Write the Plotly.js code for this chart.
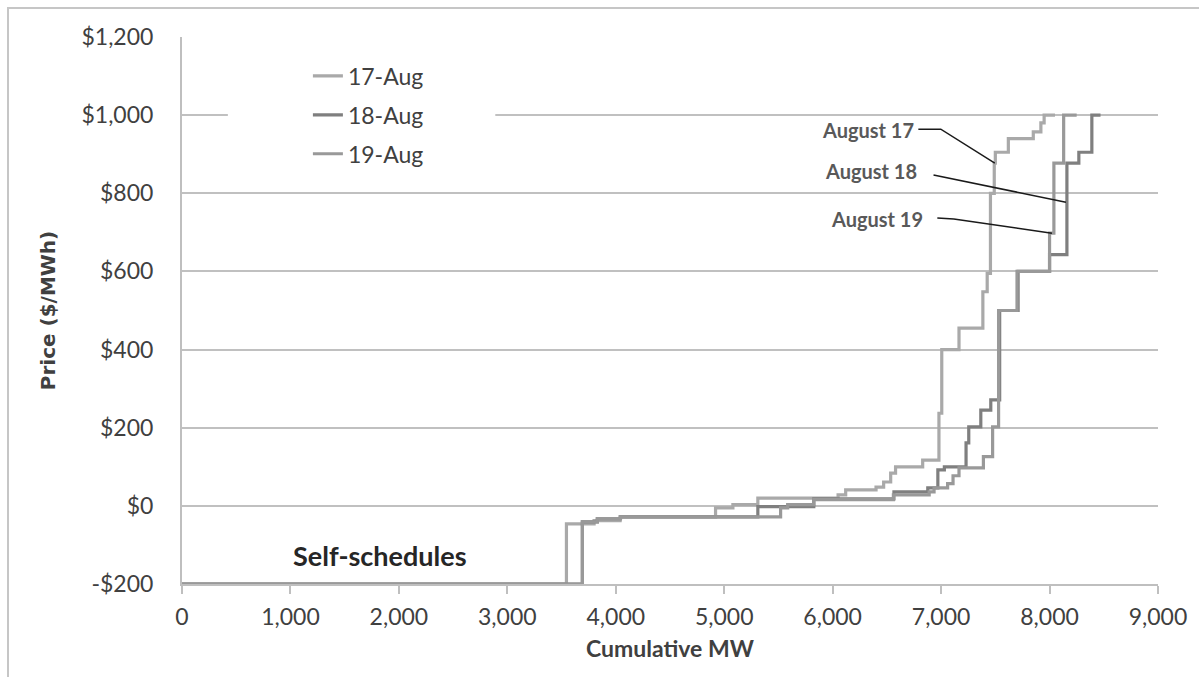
<!DOCTYPE html>
<html>
<head>
<meta charset="utf-8">
<script src="https://cdn.plot.ly/plotly-3.0.1.min.js"></script>
<style>
  html, body { margin: 0; padding: 0; background: #fff; }
  #wrap { position: relative; width: 1199px; height: 677px; overflow: hidden; }
  #chart { width: 1199px; height: 677px; }
  #frame { position: absolute; left: 7px; top: 7px; width: 1300px; height: 800px;
           border: 2px solid #c6c6c6; pointer-events: none; }
</style>
</head>
<body>
<div id="wrap"><div id="chart"></div><div id="frame"></div></div>
<script>
// ---- Data ----
const seriesNames = ['17-Aug', '18-Aug', '19-Aug'];
const seriesColors = ['#a9a9a9', '#7f7f7f', '#999999'];

// 17-Aug supply curve (step: MW where the new price starts, price $/MWh)
const aug17MW    = [0, 3545, 3800, 4040, 4920, 5080, 5310, 6050, 6120, 6400, 6470, 6535, 6580, 6830, 6980, 7006, 7165, 7385, 7425, 7455, 7490, 7500, 7620, 7850, 7920, 7950, 8050];
const aug17Price = [-200, -46, -38, -28, -5, 3, 20, 28, 41, 48, 61, 84, 100, 117, 237, 400, 455, 548, 595, 800, 877, 905, 940, 957, 980, 1000, 1000];

// 18-Aug supply curve
const aug18MW    = [0, 3692, 3830, 4043, 5310, 5826, 6565, 6877, 6970, 7030, 7230, 7255, 7366, 7458, 7540, 7710, 8000, 8160, 8270, 8390, 8470];
const aug18Price = [-200, -41, -33, -28, -2, 18, 36, 46, 92, 100, 161, 202, 245, 271, 500, 600, 643, 877, 905, 1000, 1000];

// 19-Aug supply curve
const aug19MW    = [0, 3692, 3830, 4043, 5520, 5585, 5826, 6560, 6890, 6935, 7060, 7110, 7165, 7390, 7475, 7530, 7700, 8000, 8040, 8130, 8250];
const aug19Price = [-200, -41, -33, -28, -5, 3, 16, 28, 36, 46, 57, 77, 97, 126, 202, 500, 600, 698, 877, 1000, 1000];

// Axis ticks
const xTickVals = [0, 1000, 2000, 3000, 4000, 5000, 6000, 7000, 8000, 9000];
const xTickText = ['0', '1,000', '2,000', '3,000', '4,000', '5,000', '6,000', '7,000', '8,000', '9,000'];
const yTickVals = [-200, 0, 200, 400, 600, 800, 1000, 1200];
const yTickText = ['-$200', '$0', '$200', '$400', '$600', '$800', '$1,000', '$1,200'];
const xTitle = 'Cumulative MW';
const yTitle = 'Price ($/MWh)';

// Callout labels and their leader lines (MW, $/MWh)
const calloutText  = ['August 17', 'August 18', 'August 19'];
const calloutX     = [6770, 6800, 6855];
const calloutY     = [962, 858, 733];
const leaderMW     = [[6790, 6997, 7495], [6930, 8151], [6965, 7117, 8022]];
const leaderPrice  = [[964, 964, 877], [847, 777], [737, 734, 698]];

const noteText = 'Self-schedules';
const noteX = 1828, noteY = -128;

// ---- Build chart ----
const FONT = 'Lato, "Open Sans", sans-serif';
const xs = [aug17MW, aug18MW, aug19MW];
const ys = [aug17Price, aug18Price, aug19Price];

const traces = seriesNames.map((n, i) => ({
  type: 'scatter', mode: 'lines', name: n,
  x: xs[i], y: ys[i],
  line: { shape: 'hv', color: seriesColors[i], width: 3.2 },
  legendgroup: 'g' + i,
  hoverinfo: 'skip'
}));

const shapes = leaderMW.map((mx, i) => ({
  type: 'path', xref: 'x', yref: 'y', layer: 'above',
  path: mx.map((v, k) => (k === 0 ? 'M' : 'L') + v + ',' + leaderPrice[i][k]).join(' '),
  line: { color: '#1a1a1a', width: 1.5 }
}));
// white gap in the $1,000 gridline behind the legend
shapes.unshift({
  type: 'rect', xref: 'paper', yref: 'y', layer: 'above',
  x0: 0.047, x1: 0.321, y0: 985, y1: 1015,
  fillcolor: '#ffffff', line: { width: 0 }
});

const annotations = calloutText.map((t, i) => ({
  x: calloutX[i], y: calloutY[i], xref: 'x', yref: 'y',
  text: '<b>' + t + '</b>', showarrow: false, xanchor: 'right', yanchor: 'middle',
  font: { family: FONT, size: 20, color: '#595959' }
}));
annotations.push({
  x: noteX, y: noteY, xref: 'x', yref: 'y', text: '<b>' + noteText + '</b>',
  showarrow: false, xanchor: 'center', yanchor: 'middle',
  font: { family: FONT, size: 27, color: '#262626' }
});
// x-axis title (placed as annotation to match the reference spacing)
annotations.push({
  x: 0.5, y: -0.117, xref: 'paper', yref: 'paper', text: '<b>' + xTitle + '</b>',
  showarrow: false, xanchor: 'center', yanchor: 'middle',
  font: { family: FONT, size: 23, color: '#404040' }
});

const layout = {
  width: 1199, height: 677,
  margin: { l: 182, r: 41, t: 37, b: 93 },
  paper_bgcolor: '#ffffff', plot_bgcolor: '#ffffff',
  font: { family: FONT, size: 23, color: '#404040' },
  showlegend: true,
  legend: {
    x: 0.129, y: 0.968, xanchor: 'left', yanchor: 'top',
    bgcolor: 'rgba(0,0,0,0)', borderwidth: 0,
    font: { family: FONT, size: 23, color: '#404040' },
    traceorder: 'grouped', tracegroupgap: 6
  },
  xaxis: {
    range: [0, 9000], tickvals: xTickVals, ticktext: xTickText,
    showgrid: false, zeroline: false,
    showline: true, linecolor: '#bfbfbf', linewidth: 2,
    ticks: 'outside', ticklen: 8, tickwidth: 2, tickcolor: '#bfbfbf',
    ticklabelstandoff: 3
  },
  yaxis: {
    range: [-200, 1200], tickvals: yTickVals, ticktext: yTickText,
    showgrid: true, gridcolor: '#c0c0c0', gridwidth: 2,
    zeroline: false, showline: true, linecolor: '#bfbfbf', linewidth: 2,
    ticks: '', ticklabelstandoff: 22,
    title: { text: '<b>' + yTitle + '</b>', standoff: 20, font: { family: '"DejaVu Sans", sans-serif', size: 20, color: '#404040' } }
  },
  shapes: shapes,
  annotations: annotations
};

Plotly.newPlot('chart', traces, layout, { staticPlot: true, displayModeBar: false });
</script>
</body>
</html>
